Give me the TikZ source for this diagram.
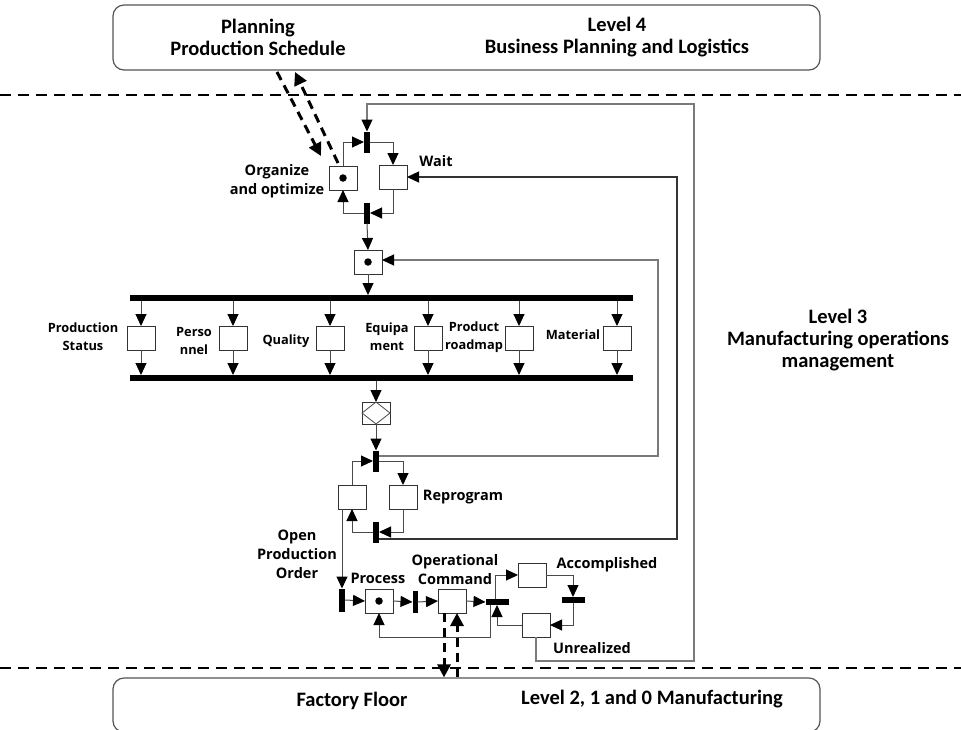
\documentclass[tikz,border=0pt]{standalone}
\usepackage{fontspec}
\setmainfont{Carlito}
\newfontfamily\lblfamily{Open Sans}
\usetikzlibrary{arrows.meta,calc}

\definecolor{linec}{HTML}{4A4A4A}
\definecolor{boxc}{HTML}{333333}
\definecolor{loopc}{HTML}{7A7A7A}
\definecolor{panelc}{HTML}{555555}

\begin{document}
\begin{tikzpicture}[x=1pt,y=-1pt,
  place/.style={draw=boxc, fill=white, line width=1pt, minimum width=28pt, minimum height=24pt, inner sep=0pt, outer sep=0pt},
  vtrans/.style={fill=black, minimum width=6pt, minimum height=21pt, inner sep=0pt, outer sep=0pt},
  htrans/.style={fill=black, minimum width=23pt, minimum height=6pt, inner sep=0pt, outer sep=0pt},
  bar/.style={fill=black, minimum width=503pt, minimum height=6pt, inner sep=0pt, outer sep=0pt},
  panel/.style={draw=panelc, line width=1.2pt, rounded corners=11pt, minimum width=707pt, inner sep=0pt},
  arr/.style={draw=linec, line width=1pt, -{Triangle[length=12pt,width=11pt,color=black]}},
  sepline/.style={draw=black, line width=1.6pt, dash pattern=on 11pt off 7pt},
  darr/.style={draw=black, line width=3pt, dash pattern=on 9pt off 6pt, -{Triangle[length=13pt,width=13pt]}},
  lbl/.style={font=\lblfamily\bfseries\fontsize{14.5}{19}\selectfont, align=center, inner sep=0pt},
  lbls/.style={font=\lblfamily\bfseries\fontsize{12.8}{18}\selectfont, align=center, inner sep=0pt},
  big/.style={font=\bfseries\fontsize{20.5}{22}\selectfont, align=center, inner sep=0pt},
  tok/.style={circle, fill=black, minimum size=7.5pt, inner sep=0pt}
]
\clip (0,0) rectangle (961,729);
\fill[white] (0,0) rectangle (961,729);

% level separators
\draw[sepline] (0,95) -- (961,95);
\draw[sepline] (0,668) -- (961,668);

% level 4 and level 0-2 panels
\node[panel, minimum height=65pt] (l4) at (466.5,37.5) {};
\node[panel, minimum height=54pt] (l0) at (466.5,705) {};
\node[big] (plan) at (258,37) {Planning\\Production Schedule};
\node[big] (lv4) at (617,37) {Level 4\\Business Planning and Logistics};
\node[big] (floor) at (352,701) {Factory Floor};
\node[big] (lv0) at (652,699) {Level 2, 1 and 0 Manufacturing};
\node[big] (lv3) at (838,340) {Level 3\\Manufacturing operations\\management};

% scheduling loop
\node[vtrans] (t1) at (367,142) {};
\node[place] (p1) at (343,178) {};
\node[tok] at (p1) {};
\node[place] (p2) at (393,177) {};
\node[vtrans] (t2) at (367,213) {};
\node[place] (p3) at (368,262) {};
\node[tok] at (p3) {};
\node[lbl] (lorg) at (277,181) {Organize\\and optimize};
\node[lbl] (lwait) at (436,161) {Wait};

\draw[arr] (p1.north) |- (t1.west);
\draw[arr] (t1.east) -| (p2.north);
\draw[arr] (p2.south) |- (t2.east);
\draw[arr] (t2.west) -| (p1.south);
\draw[arr] (t2.south) -- (p3.north);

% resource bars
\node[bar] (btop) at (381.5,298) {};
\node[bar] (bbot) at (381.5,378) {};
\draw[arr] (p3.south) -- (p3.south |- btop.north);
\foreach \n/\x in {1/141,2/233,3/330,4/428,5/519,6/617} {
  \node[place] (c\n) at (\x,338) {};
  \draw[arr] (c\n.north |- btop.south) -- (c\n.north);
  \draw[arr] (c\n.south) -- (c\n.south |- bbot.north);
}
\node[lbls] (lps) at (83,337) {Production\\Status};
\node[lbls] (lpe) at (194,341) {Perso\\nnel};
\node[lbls] (lqu) at (286,341) {Quality};
\node[lbls] (leq) at (387,337) {Equipa\\ment};
\node[lbls] (lpr) at (474,337) {Product\\roadmap};
\node[lbls] (lma) at (573,335) {Material};

% decision
\node[place, minimum height=22pt] (dx) at (376,413) {};
\draw[draw=linec, line width=0.8pt] (dx.north) -- (dx.east) -- (dx.south) -- (dx.west) -- cycle;
\draw[arr] (dx.north |- bbot.south) -- (dx.north);

% reprogram loop
\node[vtrans] (t3) at (376,461) {};
\node[place] (p4) at (352,497) {};
\node[place] (p5) at (403,497) {};
\node[vtrans] (t4) at (376,532) {};
\node[lbl] (lrep) at (463,497) {Reprogram};
\draw[arr] (dx.south) -- (t3.north);
\draw[arr] (p4.north) |- (t3.west);
\draw[arr] (t3.east) -| (p5.north);
\draw[arr] (p5.south) |- (t4.east);
\draw[arr] (t4.west) -| (p4.south);

% execution
\node[vtrans, minimum height=23pt] (t5) at (342,600) {};
\node[place] (p6) at (379,601) {};
\node[tok] at (p6) {};
\node[vtrans, minimum height=22pt, minimum width=5pt] (t6) at (415,602) {};
\node[place] (p7) at (452,601) {};
\node[htrans] (t7) at (497,602) {};
\node[place] (p8) at (532,575) {};
\node[htrans] (t8) at (573,600) {};
\node[place] (p9) at (536,625) {};
\node[lbl] (lopen) at (297,554) {Open\\Production\\Order};
\node[lbl] (lproc) at (378,578) {Process};
\node[lbl] (lcmd) at (455,570) {Operational\\Command};
\node[lbl] (lacc) at (607,565) {Accomplished};
\node[lbl] (lunr) at (592,648) {Unrealized};

\draw[arr] ([xshift=-10pt]p4.south) -- ([xshift=-10pt]p4.south |- t5.north);
\draw[arr] (t5.east) -- (p6.west);
\draw[arr] (p6.east) -- (t6.west);
\draw[arr] (t6.east) -- (p7.west);
\draw[arr] (p7.east) -- (t7.west);
\draw[arr] ([xshift=-2pt]t7.north) |- (p8.west);
\draw[arr] (p8.east) -| (t8.north);
\draw[arr] (t8.south) |- (p9.east);
\draw[arr] (p9.west) -| (t7.south);
\coordinate (r1) at (490,637);
\draw[arr] ([xshift=-7pt]t7.south) -- (r1) -| (p6.south);

% feedback paths
\coordinate (o1) at (536,661);
\coordinate (o2) at (694,661);
\coordinate (o3) at (694,104);
\coordinate (o4) at (367,104);
\draw[arr, draw=loopc, line width=1.2pt] (p9.south) -- (o1) -- (o2) -- (o3) -- (o4) -- (t1.north);
\coordinate (m1) at (677,539);
\coordinate (m2) at (677,177);
\draw[arr, draw=boxc, line width=1.2pt] (t4.east |- m1) -- (m1) -- (m2) -- (p2.east |- m2);
\coordinate (i1) at (658,456);
\coordinate (i2) at (658,260);
\draw[arr, draw=loopc, line width=1.2pt] (t3.east |- i1) -- (i1) -- (i2) -- (p3.east |- i2);

% exchanges with the neighbouring levels
\coordinate (da1) at (277,72);
\coordinate (da2) at (321,156);
\coordinate (db1) at (338,163);
\coordinate (db2) at (295,72);
\draw[darr] (da1) -- (da2);
\draw[darr] (db1) -- (db2);
\draw[darr] ([xshift=-8pt]p7.south) -- ([xshift=-8pt]p7.south |- l0.north);
\draw[darr] ([xshift=5pt]p7.south |- l0.north) -- ([xshift=5pt]p7.south);
\end{tikzpicture}
\end{document}
